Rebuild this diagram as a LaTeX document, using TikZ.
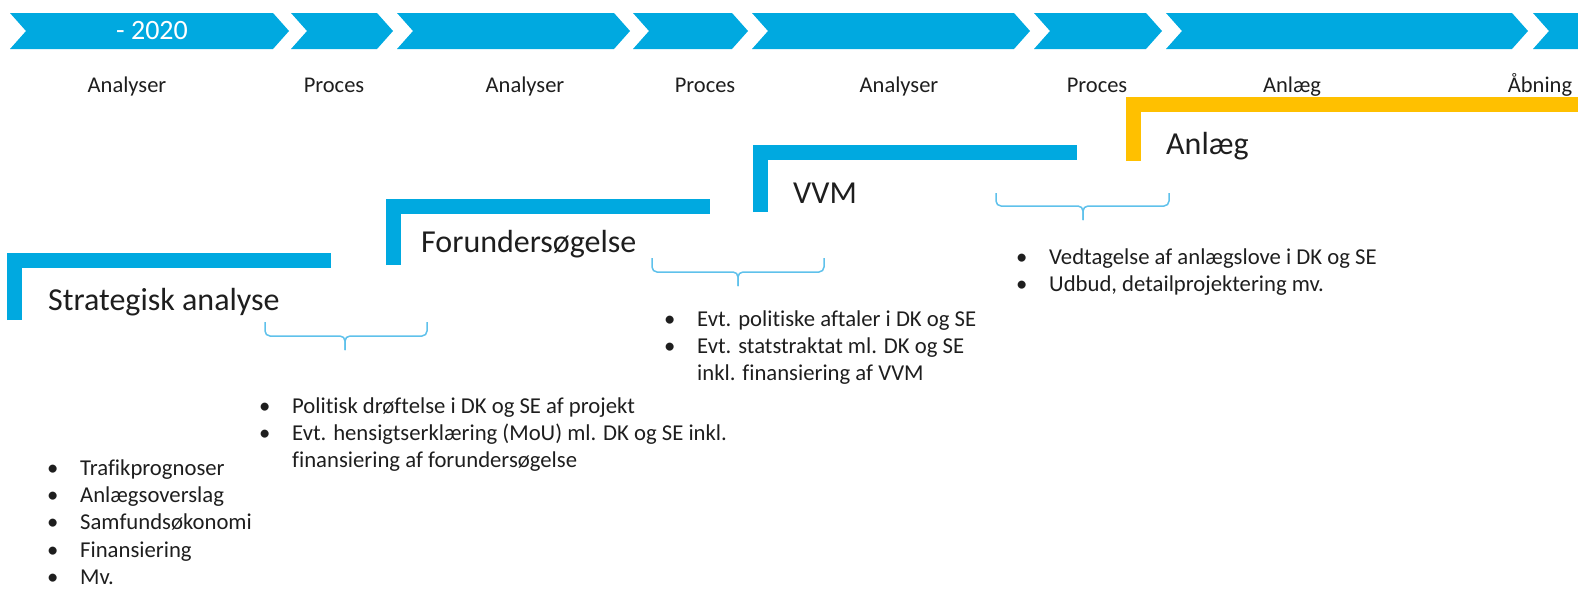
\documentclass[tikz,border=0pt]{standalone}
\usepackage{fontspec}
\setmainfont[Ligatures=NoCommon]{Carlito}
\usepackage{xcolor}
\usepackage{tikz}
\usetikzlibrary{positioning,calc}
\definecolor{tlblue}{RGB}{0,169,224}
\definecolor{tlyellow}{RGB}{255,192,0}
\definecolor{brblue}{RGB}{95,193,235}
\definecolor{txtgray}{RGB}{30,30,30}
\newcommand{\blist}[1]{\begin{tabular}{@{}p{33pt}@{}l@{}}#1\end{tabular}}

\begin{document}
\begin{tikzpicture}[x=1pt, y=-1pt,
    chev/.style={fill=tlblue},
    phase/.style={font=\fontsize{22.5}{27}\selectfont, text=txtgray, anchor=base},
    stagebar/.style={line width=15pt, draw=tlblue},
    stagetitle/.style={font=\fontsize{32}{38}\selectfont, text=txtgray, anchor=base west, inner sep=0pt},
    brace/.style={draw=brblue, line width=1.5pt, rounded corners=5pt},
    bullets/.style={font=\fontsize{22.7}{27.3}\selectfont, text=txtgray, anchor=north west, inner sep=0pt}]
    \useasboundingbox (0,0) rectangle (1578,589);
    \clip (0,0) rectangle (1578,589);

    \foreach \l/\r in {10/289, 291/393, 397/630, 633/748, 752/1030, 1034/1162, 1166/1528, 1533/1660}
        \fill[chev] (\l,13) -- (\r-16,13) -- (\r,31) -- (\r-16,49) -- (\l,49) -- (\l+16,31) -- cycle;
    \node[font=\fontsize{28}{34}\selectfont, text=white] (yr) at (152,31) {- 2020};

    \foreach \x/\t [count=\i] in {127/Analyser, 334/Proces, 525/Analyser, 705/Proces, 899/Analyser, 1097/Proces, 1292/Anlæg, 1540/Åbning}
        \node[phase] (ph\i) at (\x,92) {\t};

    \draw[stagebar] (14.5,320) -- (14.5,260.5) -- (331,260.5);
    \draw[stagebar] (393.5,265) -- (393.5,206.5) -- (710,206.5);
    \draw[stagebar] (760.5,212) -- (760.5,152.5) -- (1077,152.5);
    \draw[stagebar, draw=tlyellow] (1133.5,161) -- (1133.5,104) -- (1600,104);

    \node[stagetitle] (strat) at (48,310) {Strategisk analyse};
    \node[stagetitle] (forund) at (421,252) {Forundersøgelse};
    \node[stagetitle] (vvm) at (793,203) {VVM};
    \node[stagetitle] (anlaeg) at (1166,154) {Anlæg};

    \draw[brace] (265,322) |- (345,336) -- (345,350);
    \draw[brace] (427,322) |- (345,336) -- (345,350);
    \draw[brace] (652,258) |- (738,272) -- (738,286);
    \draw[brace] (824,258) |- (738,272) -- (738,286);
    \draw[brace] (996,193) |- (1083,206) -- (1083,220);
    \draw[brace] (1169,193) |- (1083,206) -- (1083,220);

    \node[bullets] (listA) at (47,456) {\blist{%
        \textbullet & Trafikprognoser\\
        \textbullet & Anlægsoverslag\\
        \textbullet & Samfundsøkonomi\\
        \textbullet & Finansiering\\
        \textbullet & Mv.}};
    \node[bullets] (listB) at (259,394) {\blist{%
        \textbullet & Politisk drøftelse i DK og SE af projekt\\
        \textbullet & Evt. hensigtserklæring (MoU) ml. DK og SE inkl.\\
                    & finansiering af forundersøgelse}};
    \node[bullets] (listC) at (664,307) {\blist{%
        \textbullet & Evt. politiske aftaler i DK og SE\\
        \textbullet & Evt. statstraktat ml. DK og SE\\
                    & inkl. finansiering af VVM}};
    \node[bullets] (listD) at (1016,245) {\blist{%
        \textbullet & Vedtagelse af anlægslove i DK og SE\\
        \textbullet & Udbud, detailprojektering mv.}};
\end{tikzpicture}
\end{document}
